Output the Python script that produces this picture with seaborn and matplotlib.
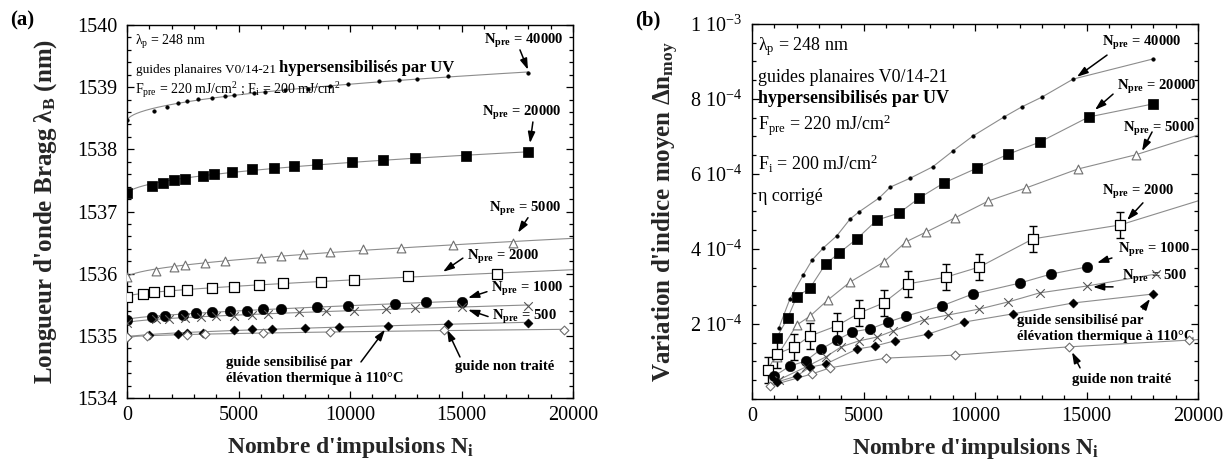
import numpy as np
import matplotlib
matplotlib.use("Agg")
import matplotlib.pyplot as plt
import seaborn as sns
from matplotlib.ticker import MultipleLocator, FixedLocator, FixedFormatter

# ---------------------------------------------------------------------------
# (a) Bragg wavelength (nm) versus number of pulses N_i
# ---------------------------------------------------------------------------
a_40000_x = [0, 1200, 1800, 2300, 2700, 3200, 3800, 4400, 4800, 5700, 6200, 7100,
             8100, 9100, 9900, 11300, 12200, 13000, 14400, 18000]
a_40000_y = [1538.47, 1538.62, 1538.68, 1538.75, 1538.78, 1538.81, 1538.83, 1538.86,
             1538.87, 1538.91, 1538.92, 1538.95, 1538.97, 1539.02, 1539.05, 1539.10,
             1539.12, 1539.13, 1539.18, 1539.22]

a_20000_x = [0, 1100, 1600, 2100, 2600, 3400, 3900, 4700, 5600, 6600, 7500, 8500,
             10100, 11500, 12900, 15200, 18000]
a_20000_y = [1537.30, 1537.41, 1537.46, 1537.51, 1537.52, 1537.57, 1537.60, 1537.64,
             1537.68, 1537.70, 1537.73, 1537.77, 1537.79, 1537.83, 1537.86, 1537.89,
             1537.95]

a_5000_x = [0, 1300, 2100, 2600, 3500, 4400, 6000, 6900, 7900, 9100, 10600, 12300,
            14600, 17300]
a_5000_y = [1535.95, 1536.04, 1536.11, 1536.14, 1536.17, 1536.21, 1536.25, 1536.29,
            1536.32, 1536.35, 1536.40, 1536.41, 1536.46, 1536.50]

a_2000_x = [0, 700, 1200, 1900, 2700, 3800, 4800, 5900, 7000, 8700, 10200, 12600, 16600]
a_2000_y = [1535.63, 1535.68, 1535.71, 1535.72, 1535.74, 1535.77, 1535.79, 1535.82,
            1535.85, 1535.87, 1535.90, 1535.96, 1536.00]

a_1000_x = [0, 1100, 1700, 2500, 3100, 3800, 4600, 5400, 6100, 6900, 8500, 9900,
            12000, 13400, 15000]
a_1000_y = [1535.26, 1535.31, 1535.32, 1535.34, 1535.37, 1535.39, 1535.40, 1535.40,
            1535.43, 1535.43, 1535.47, 1535.48, 1535.51, 1535.55, 1535.55]

a_500_x = [0, 1300, 1900, 2600, 3300, 4000, 4800, 5600, 6300, 7700, 8900, 10200,
           11600, 12900, 15000, 18000]
a_500_y = [1535.21, 1535.27, 1535.27, 1535.29, 1535.31, 1535.32, 1535.32, 1535.34,
           1535.35, 1535.39, 1535.40, 1535.40, 1535.43, 1535.45, 1535.47, 1535.48]

a_therm_x = [0, 1000, 2300, 2700, 3400, 4800, 5600, 6500, 8000, 9500, 11700, 14400, 18000]
a_therm_y = [1534.98, 1535.02, 1535.03, 1535.05, 1535.05, 1535.10, 1535.11, 1535.11,
             1535.13, 1535.14, 1535.16, 1535.19, 1535.21]

a_ref_x = [0, 900, 2700, 3500, 6100, 9100, 14200, 19600]
a_ref_y = [1534.98, 1534.99, 1535.02, 1535.03, 1535.05, 1535.06, 1535.09, 1535.10]

# ---------------------------------------------------------------------------
# (b) mean index change versus number of pulses N_i
# ---------------------------------------------------------------------------
b_40000_x = [1200, 1700, 2300, 2700, 3200, 3800, 4400, 4800, 5700, 6200, 7100, 8100,
             9000, 9900, 11300, 12100, 13000, 14400, 18000]
b_40000_y = [1.89e-4, 2.67e-4, 3.31e-4, 3.71e-4, 4.03e-4, 4.35e-4, 4.80e-4, 4.99e-4,
             5.36e-4, 5.65e-4, 5.89e-4, 6.19e-4, 6.61e-4, 7.01e-4, 7.52e-4, 7.79e-4,
             8.05e-4, 8.53e-4, 9.07e-4]

b_20000_x = [1100, 1600, 2000, 2600, 3300, 3900, 4700, 5600, 6600, 7500, 8600, 10100,
             11500, 12900, 15100, 18000]
b_20000_y = [1.63e-4, 2.16e-4, 2.72e-4, 2.96e-4, 3.60e-4, 3.89e-4, 4.27e-4, 4.77e-4,
             4.96e-4, 5.36e-4, 5.76e-4, 6.16e-4, 6.53e-4, 6.85e-4, 7.52e-4, 7.87e-4]

b_5000_x = [1100, 2000, 2600, 3400, 4400, 5900, 6900, 7800, 9100, 10600, 12300, 14600, 17200]
b_5000_y = [1.12e-4, 1.97e-4, 2.21e-4, 2.64e-4, 3.12e-4, 3.65e-4, 4.19e-4, 4.45e-4,
            4.83e-4, 5.28e-4, 5.63e-4, 6.13e-4, 6.51e-4]

b_2000_x = [700, 1100, 1900, 2600, 3800, 4800, 5900, 7000, 8700, 10200, 12600, 16500]
b_2000_y = [0.77e-4, 1.20e-4, 1.39e-4, 1.68e-4, 1.95e-4, 2.29e-4, 2.56e-4, 3.07e-4,
            3.25e-4, 3.52e-4, 4.27e-4, 4.64e-4]
b_2000_err = [0.35e-4, 0.37e-4, 0.35e-4, 0.35e-4, 0.35e-4, 0.35e-4, 0.35e-4, 0.35e-4,
              0.35e-4, 0.35e-4, 0.35e-4, 0.35e-4]

b_1000_x = [1000, 1700, 2400, 3100, 3800, 4500, 5300, 6100, 6900, 8500, 9900, 12000,
            13400, 15000]
b_1000_y = [0.61e-4, 0.88e-4, 1.01e-4, 1.33e-4, 1.57e-4, 1.79e-4, 1.87e-4, 2.05e-4,
            2.21e-4, 2.48e-4, 2.80e-4, 3.09e-4, 3.33e-4, 3.52e-4]

b_500_x = [1200, 2400, 3300, 4000, 4800, 5600, 6300, 7700, 8800, 10200, 11500, 12900,
           15000, 18100]
b_500_y = [0.51e-4, 0.85e-4, 1.12e-4, 1.39e-4, 1.55e-4, 1.65e-4, 1.81e-4, 2.11e-4,
           2.24e-4, 2.40e-4, 2.59e-4, 2.83e-4, 3.01e-4, 3.33e-4]

b_therm_x = [1100, 2000, 2600, 3300, 4700, 5500, 6400, 7900, 9500, 11700, 14400, 18000]
b_therm_y = [0.45e-4, 0.61e-4, 0.85e-4, 0.93e-4, 1.33e-4, 1.41e-4, 1.55e-4, 1.73e-4,
             2.05e-4, 2.27e-4, 2.56e-4, 2.80e-4]

b_ref_x = [800, 2700, 3500, 6000, 9100, 14200, 19600]
b_ref_y = [0.35e-4, 0.67e-4, 0.83e-4, 1.09e-4, 1.17e-4, 1.39e-4, 1.57e-4]

# pulse count up to which each guide line is drawn
a_line_end = [18000, 18000, 20000, 20000, 15000, 18000, 18000, 19600]
b_line_end = [18000, 18000, 20000, 20000, 15000, 18100, 18000, 20000]

b_ytick_values = [2e-4, 4e-4, 6e-4, 8e-4, 1e-3]
b_ytick_labels = ["2 10$^{-4}$", "4 10$^{-4}$", "6 10$^{-4}$", "8 10$^{-4}$", "1 10$^{-3}$"]

# ---------------------------------------------------------------------------
sns.set_theme(style="ticks")
plt.rcParams.update({
    "font.family": ["Liberation Serif", "DejaVu Serif"],
    "mathtext.fontset": "custom",
    "mathtext.rm": "Liberation Serif",
    "mathtext.it": "Liberation Serif:italic",
    "mathtext.bf": "Liberation Serif:bold",
    "axes.linewidth": 1.0,
    "axes.edgecolor": "black",
    "text.color": "black",
    "xtick.color": "black",
    "ytick.color": "black",
})

LINE_GREY = "#8c8c8c"
marker_styles = [
    dict(marker="o", s=7, color="black", edgecolor="black", linewidth=0.3),          # 40000
    dict(marker="s", s=46, color="black", edgecolor="black", linewidth=0.5),         # 20000
    dict(marker="^", s=40, facecolor="white", edgecolor="#6e6e6e", linewidth=0.8),   # 5000
    dict(marker="s", s=48, facecolor="white", edgecolor="black", linewidth=0.9),     # 2000
    dict(marker="o", s=58, color="black", edgecolor="black", linewidth=0.3),         # 1000
    dict(marker="x", s=38, color="#555555", linewidth=0.8),                          # 500
    dict(marker="D", s=22, color="black", edgecolor="black", linewidth=0.3),         # 110 C
    dict(marker="D", s=20, facecolor="white", edgecolor="#6e6e6e", linewidth=0.8),   # untreated
]

fig = plt.figure(figsize=(12.31, 4.71), dpi=100)
ax_a = fig.add_axes([0.1032, 0.1550, 0.3623, 0.7919])
ax_b = fig.add_axes([0.6109, 0.1529, 0.3623, 0.7962])


def draw_fit(ax, xs, ys, style, x_end):
    """Smooth sqrt-law fit from N_i = 0, drawn under the measured points."""
    xs = np.asarray(xs, float)
    ys = np.asarray(ys, float)
    coef = np.polyfit(np.sqrt(xs), ys, 2)
    xf = np.linspace(0, x_end, 300)
    sns.lineplot(x=xf, y=np.polyval(coef, np.sqrt(xf)), ax=ax, color=LINE_GREY,
                 linewidth=0.8, zorder=1)
    sns.scatterplot(x=xs, y=ys, ax=ax, zorder=4, **style)


def draw_joined(ax, xs, ys, style, x_end):
    """Measured points joined by a line, prolonged by the trend of the last points."""
    xs = np.asarray(xs, float)
    ys = np.asarray(ys, float)
    sns.lineplot(x=xs, y=ys, ax=ax, color=LINE_GREY, linewidth=0.8, zorder=1)
    if x_end > xs[-1]:
        slope = np.polyfit(xs[-4:], ys[-4:], 1)[0]
        xe = np.array([xs[-1], x_end])
        sns.lineplot(x=xe, y=ys[-1] + slope * (xe - xs[-1]),
                     ax=ax, color=LINE_GREY, linewidth=0.8, zorder=1)
    sns.scatterplot(x=xs, y=ys, ax=ax, zorder=4, **style)


a_series = [(a_40000_x, a_40000_y), (a_20000_x, a_20000_y), (a_5000_x, a_5000_y),
            (a_2000_x, a_2000_y), (a_1000_x, a_1000_y), (a_500_x, a_500_y),
            (a_therm_x, a_therm_y), (a_ref_x, a_ref_y)]
for (xs, ys), st, xe in zip(a_series, marker_styles, a_line_end):
    draw_fit(ax_a, xs, ys, st, xe)

b_series = [(b_40000_x, b_40000_y), (b_20000_x, b_20000_y), (b_5000_x, b_5000_y),
            (b_2000_x, b_2000_y), (b_1000_x, b_1000_y), (b_500_x, b_500_y),
            (b_therm_x, b_therm_y), (b_ref_x, b_ref_y)]
ax_b.errorbar(b_2000_x, b_2000_y, yerr=b_2000_err, fmt="none", ecolor="black",
              elinewidth=1.0, capsize=3, capthick=1.0, zorder=3)
for (xs, ys), st, xe in zip(b_series, marker_styles, b_line_end):
    draw_joined(ax_b, xs, ys, st, xe)

# axes, ticks
for ax in (ax_a, ax_b):
    ax.set_xlim(0, 20000)
    ax.xaxis.set_major_locator(MultipleLocator(5000))
    ax.xaxis.set_minor_locator(MultipleLocator(1000))
    ax.tick_params(which="both", direction="in", top=True, right=True,
                   labelsize=14.5, width=0.9)
    ax.tick_params(which="major", length=5)
    ax.tick_params(which="minor", length=3)
    ax.tick_params(axis="x", pad=6)
    ax.tick_params(axis="y", pad=7)
    for sp in ax.spines.values():
        sp.set_linewidth(1.0)
        sp.set_color("black")

ax_a.set_ylim(1534, 1540)
ax_a.yaxis.set_major_locator(MultipleLocator(1))
ax_a.yaxis.set_minor_locator(MultipleLocator(0.2))
ax_a.yaxis.set_major_formatter(plt.FuncFormatter(lambda v, p: f"{v:.0f}"))

ax_b.set_ylim(0, 1e-3)
ax_b.yaxis.set_major_locator(FixedLocator(b_ytick_values))
ax_b.yaxis.set_major_formatter(FixedFormatter(b_ytick_labels))
ax_b.yaxis.set_minor_locator(MultipleLocator(5e-5))

ax_a.set_xlabel(r"Nombre d'impulsions N$_{\mathbf{i}}$", fontsize=17, fontweight="bold")
ax_b.set_xlabel(r"Nombre d'impulsions N$_{\mathbf{i}}$", fontsize=17, fontweight="bold")
ax_a.set_ylabel(r"Longueur d'onde Bragg λ$_{\mathbf{B}}$ (nm)", fontsize=18,
                fontweight="bold")
ax_b.set_ylabel(r"Variation d'indice moyen Δn$_{\mathbf{moy}}$", fontsize=18,
                fontweight="bold")
ax_a.xaxis.set_label_coords(0.5, -0.10)
ax_b.xaxis.set_label_coords(0.5, -0.10)
ax_a.yaxis.set_label_coords(-0.152, 0.5)
ax_b.yaxis.set_label_coords(-0.160, 0.5)

fig.text(10 / 1231, 1 - 20 / 471, "(a)", fontsize=15, fontweight="bold", va="center")
fig.text(635 / 1231, 1 - 20 / 471, "(b)", fontsize=15, fontweight="bold", va="center")

# ---- text and arrows, panel (a)
ax_a.text(360, 1539.73, r"λ$_\mathrm{p}$ = 248 nm", fontsize=10, va="center")
t1 = ax_a.text(400, 1539.28, "guides planaires V0/14-21 ", fontsize=9.5, va="center")
ax_a.annotate("hypersensibilisés par UV", xy=(1, 0), xycoords=t1, va="bottom",
              fontsize=12, fontweight="bold")
ax_a.text(360, 1538.96,
          r"F$_\mathrm{pre}$ = 220 mJ/cm$^2$ ; F$_\mathrm{i}$ = 200 mJ/cm$^2$",
          fontsize=10, va="center")

ARROW = dict(arrowstyle="-|>,head_length=0.55,head_width=0.18", color="black",
             lw=1.1, shrinkA=0, shrinkB=0)
ann = dict(fontsize=10.5, fontweight="bold", va="center")


def npre(v):
    return r"$\mathbf{N}_{\mathbf{pre}}$ = " + v


def label_arrow(ax, text, txy, tail, head, **kw):
    ax.text(txy[0], txy[1], text, **{**ann, **kw})
    ax.annotate("", xy=head, xytext=tail, arrowprops=ARROW)


label_arrow(ax_a, npre("40000"), (16000, 1539.74), (17620, 1539.60), (17980, 1539.28))
label_arrow(ax_a, npre("20000"), (15900, 1538.59), (18200, 1538.44), (18070, 1538.10))
label_arrow(ax_a, npre("5000"), (16230, 1537.04), (17980, 1536.90), (17530, 1536.66))
label_arrow(ax_a, npre("2000"), (15250, 1536.27), (15060, 1536.25), (14170, 1536.03))
label_arrow(ax_a, npre("1000"), (16320, 1535.76), (16140, 1535.71), (15290, 1535.61))
label_arrow(ax_a, npre("500"), (16370, 1535.30), (16190, 1535.31), (15290, 1535.42))
label_arrow(ax_a, "guide sensibilisé par\nélévation thermique à 110°C", (4440, 1534.45),
            (10490, 1534.58), (11570, 1535.10), linespacing=1.3)
label_arrow(ax_a, "guide non traité", (14700, 1534.50), (14930, 1534.66), (14350, 1535.10))

# ---- text and arrows, panel (b)
info_b = dict(fontsize=13, va="center")
ax_b.text(270, 9.39e-4, r"λ$_\mathrm{p}$ = 248 nm", **info_b)
ax_b.text(270, 8.56e-4, "guides planaires V0/14-21", **info_b)
ax_b.text(270, 8.00e-4, "hypersensibilisés par UV", fontweight="bold", **info_b)
ax_b.text(270, 7.31e-4, r"F$_\mathrm{pre}$ = 220 mJ/cm$^2$", **info_b)
ax_b.text(270, 6.27e-4, r"F$_\mathrm{i}$ = 200 mJ/cm$^2$", **info_b)
ax_b.text(270, 5.39e-4, "η corrigé", **info_b)

label_arrow(ax_b, npre("40000"), (15700, 9.49e-4), (15920, 9.17e-4), (14570, 8.59e-4))
label_arrow(ax_b, npre("20000"), (16370, 8.32e-4), (16190, 8.13e-4), (15380, 7.71e-4))
label_arrow(ax_b, npre("5000"), (16640, 7.20e-4), (17940, 7.12e-4), (17490, 6.61e-4))
label_arrow(ax_b, npre("2000"), (15700, 5.52e-4), (17530, 5.23e-4), (16820, 4.77e-4))
label_arrow(ax_b, npre("1000"), (16410, 3.97e-4), (16140, 3.76e-4), (15470, 3.63e-4))
label_arrow(ax_b, npre("500"), (16590, 3.25e-4), (16190, 2.99e-4), (15290, 2.99e-4))
label_arrow(ax_b, "guide sensibilisé par\nélévation thermique à 110°C", (11880, 1.88e-4),
            (17530, 2.40e-4), (17850, 2.67e-4), linespacing=1.3)
label_arrow(ax_b, "guide non traité", (14350, 0.51e-4), (14710, 0.83e-4), (14350, 1.25e-4))

fig.savefig("out.png", dpi=100)
